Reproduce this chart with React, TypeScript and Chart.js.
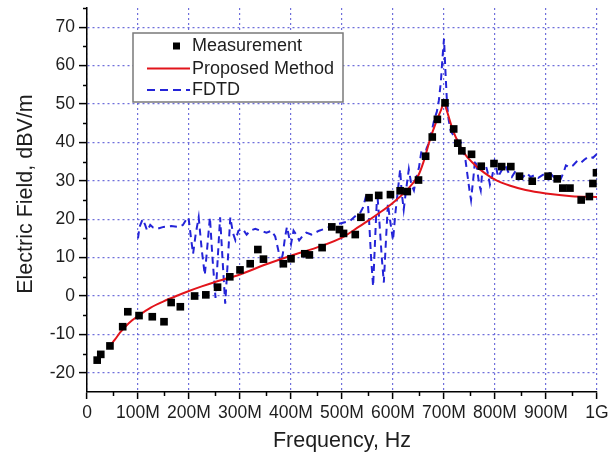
import React, { useEffect, useRef } from 'react';
import { Chart, registerables } from 'chart.js';

Chart.register(...registerables);

// ---- Data (frequency in MHz, field in dBV/m) ----
const measX = [20, 27, 45, 70, 80, 102, 128, 151, 165, 183, 211, 233, 256, 280, 300, 320, 335, 346, 385, 400, 427, 436, 461, 480, 495, 503, 526, 537, 553, 572, 595, 614, 628, 650, 664, 677, 687, 702, 719, 727, 735, 754, 773, 798, 813, 831, 848, 873, 904, 922, 933, 947, 969, 985, 992, 999];
const measY = [-16.7, -15.2, -13, -8, -4.1, -5.1, -5.4, -6.7, -1.7, -2.8, 0, 0.3, 2.3, 5.0, 6.8, 8.4, 12.1, 9.6, 8.4, 9.7, 11.0, 10.7, 12.6, 18.0, 17.3, 16.3, 16.0, 20.5, 25.6, 26.2, 26.4, 27.4, 27.2, 30.2, 36.4, 41.4, 46.0, 50.3, 43.5, 39.8, 37.8, 36.9, 33.8, 34.5, 33.7, 33.7, 31.2, 29.9, 31.2, 30.5, 28.1, 28.1, 25.0, 25.9, 29.3, 32.1];

const propX = [45, 55, 65, 75, 88, 100, 125, 150, 175, 200, 225, 250, 300, 350, 400, 450, 500, 535, 550, 575, 600, 625, 650, 660, 672, 685, 695, 700, 705, 718, 738, 760, 780, 800, 830, 860, 900, 950, 1000];
const propY = [-13, -11.3, -9.5, -8, -6.4, -5.2, -3, -1.4, 0, 1.3, 2.5, 3.6, 5.6, 8.2, 10.5, 12.6, 15.2, 18.2, 19.5, 21.8, 24.3, 27.3, 31.5, 35, 40.5, 45.5, 48.7, 50.5, 48.5, 43, 37.5, 34.2, 32, 30.3, 28.7, 27.6, 26.7, 26, 25.8];

const fdtdX = [100, 103, 109, 114, 118, 124, 130, 138, 150, 165, 180, 188, 195, 199, 204, 208, 213, 219, 225, 231, 236, 241, 246, 252, 256, 261, 266, 271, 276, 281, 286, 291, 297, 305, 313, 320, 330, 340, 352, 362, 369, 375, 380, 384, 388, 392, 396, 400, 405, 410, 416, 422, 430, 440, 455, 470, 485, 500, 515, 528, 535, 541, 549, 553, 557, 561, 565, 569, 573, 578, 582, 586, 590, 594, 600, 605, 610, 614, 617, 621, 626, 631, 636, 641, 646, 651, 656, 661, 666, 671, 676, 681, 686, 690, 694, 697, 700, 703, 706, 709, 713, 720, 727, 733, 738, 742, 746, 750, 753, 757, 761, 765, 769, 772, 776, 781, 786, 790, 795, 799, 803, 806, 812, 820, 827, 833, 840, 846, 855, 862, 870, 878, 885, 893, 900, 908, 915, 922, 929, 934, 939, 946, 953, 960, 967, 975, 984, 992, 1000];
const fdtdY = [15, 18, 20, 18.5, 17, 18.5, 17.8, 17.5, 18, 18.2, 18, 18.5, 20, 20.5, 15, 11, 16, 20.5, 12, 5.5, 13, 20.5, 10, -0.5, 9, 20.5, 9, -2, 9, 20.5, 16.5, 14.5, 17, 17.5, 16, 17, 17.5, 17, 16.5, 17, 15.5, 12, 8.5, 11, 15, 18, 15.5, 13.5, 17, 16, 14.5, 15.5, 16.5, 16, 17, 17.7, 18.5, 19, 19.5, 21, 21.5, 23, 27, 20, 10, 2.5, 15, 27, 20, 10, 3.5, 14, 24, 20, 14.5, 22, 28, 33, 27, 22.5, 28, 33, 29, 27.5, 31, 33.5, 38, 36, 38.5, 40, 43, 46, 48, 51, 56, 62, 67, 58, 50, 46, 43, 41.5, 40.5, 40, 38, 35.5, 31.5, 27.5, 25, 30, 35.5, 33, 29, 27.5, 34, 34.5, 32, 29, 31.5, 35, 33, 31, 32.5, 34, 32, 31, 32.5, 32, 31, 32, 31, 31.5, 30.8, 31.5, 32, 32, 31, 31, 30.5, 32, 34, 33.5, 34, 35, 34.5, 35.5, 36.3, 36, 37];

const xTickValues = [0, 100, 200, 300, 400, 500, 600, 700, 800, 900, 1000];
const xTickLabels = ['0', '100M', '200M', '300M', '400M', '500M', '600M', '700M', '800M', '900M', '1G'];
const xMinor = [50, 150, 250, 350, 450, 550, 650, 750, 850, 950];
const yTickValues = [-20, -10, 0, 10, 20, 30, 40, 50, 60, 70];
const yMinor = [-15, -5, 5, 15, 25, 35, 45, 55, 65, 75];

const legendLabels = ['Measurement', 'Proposed Method', 'FDTD'];
const xTitle = 'Frequency, Hz';
const yTitle = 'Electric Field, dBV/m';

const FONT = "'Liberation Sans', Arial, Helvetica, sans-serif";
const TEXT = '#1e1e1e';
const GRID = 'rgba(95, 95, 215, 0.9)';
const RED = '#e2141b';
const BLUE = '#2424d8';

const minorTicks = {
  id: 'minorTicks',
  afterDraw(chart: any) {
    const { ctx, chartArea } = chart;
    const xs = chart.scales.x;
    const ys = chart.scales.y;
    ctx.save();
    ctx.strokeStyle = '#000';
    ctx.lineWidth = 1.5;
    xMinor.forEach((v) => {
      const px = Math.round(xs.getPixelForValue(v)) + 0.5;
      ctx.beginPath();
      ctx.moveTo(px, chartArea.bottom);
      ctx.lineTo(px, chartArea.bottom + 4);
      ctx.stroke();
    });
    yMinor.forEach((v) => {
      const py = Math.round(ys.getPixelForValue(v)) + 0.5;
      ctx.beginPath();
      ctx.moveTo(chartArea.left, py);
      ctx.lineTo(chartArea.left - 4, py);
      ctx.stroke();
    });
    // y-axis title, placed slightly above the chart-area centre as in the source
    ctx.fillStyle = TEXT;
    ctx.font = `21.5px ${FONT}`;
    ctx.textAlign = 'center';
    ctx.textBaseline = 'middle';
    ctx.translate(26.5, (chartArea.top + chartArea.bottom) / 2 - 6);
    ctx.rotate(-Math.PI / 2);
    ctx.fillText(yTitle, 0, 0);
    ctx.restore();
  },
};

const legendBox = {
  id: 'legendBox',
  afterDraw(chart: any) {
    const { ctx, chartArea } = chart;
    const bx = chartArea.left + 46;
    const by = chartArea.top + 25;
    const bw = 210;
    const bh = 69;
    ctx.save();
    ctx.fillStyle = '#fff';
    ctx.fillRect(bx, by, bw, bh);
    ctx.strokeStyle = '#7a7a7a';
    ctx.lineWidth = 1.5;
    ctx.strokeRect(bx, by, bw, bh);
    const rows = [by + 13, by + 35.5, by + 57];
    const lx0 = bx + 14;
    const lx1 = bx + 57;
    ctx.fillStyle = '#000';
    ctx.fillRect(bx + 40, rows[0] - 3.5, 7, 7);
    ctx.strokeStyle = RED;
    ctx.lineWidth = 2;
    ctx.beginPath();
    ctx.moveTo(lx0, rows[1]);
    ctx.lineTo(lx1, rows[1]);
    ctx.stroke();
    ctx.strokeStyle = BLUE;
    ctx.setLineDash([8, 5]);
    ctx.beginPath();
    ctx.moveTo(lx0, rows[2]);
    ctx.lineTo(lx1, rows[2]);
    ctx.stroke();
    ctx.setLineDash([]);
    ctx.fillStyle = TEXT;
    ctx.font = `18px ${FONT}`;
    ctx.textBaseline = 'middle';
    ctx.textAlign = 'left';
    legendLabels.forEach((t, i) => ctx.fillText(t, bx + 59, rows[i] + 0.5));
    ctx.restore();
  },
};

export default function App() {
  const ref = useRef<HTMLCanvasElement>(null);
  useEffect(() => {
    const canvas = ref.current;
    if (!canvas) return;
    const chart = new Chart(canvas, {
      type: 'line',
      data: {
        datasets: [
          {
            label: legendLabels[0],
            data: measX.map((x, i) => ({ x, y: measY[i] })),
            showLine: false,
            pointStyle: 'rect',
            pointRadius: 5.4,
            pointBorderWidth: 0,
            pointBackgroundColor: '#000',
            borderColor: '#000',
            order: 0,
          },
          {
            label: legendLabels[1],
            data: propX.map((x, i) => ({ x, y: propY[i] })),
            borderColor: RED,
            borderWidth: 2,
            pointRadius: 0,
            cubicInterpolationMode: 'monotone',
            fill: false,
            order: 1,
          },
          {
            label: legendLabels[2],
            data: fdtdX.map((x, i) => ({ x, y: fdtdY[i] })),
            borderColor: BLUE,
            borderWidth: 2,
            borderDash: [7, 5],
            pointRadius: 0,
            tension: 0,
            fill: false,
            order: 2,
          },
        ],
      },
      options: {
        responsive: false,
        animation: false,
        devicePixelRatio: 1,
        layout: { padding: { left: 0, top: 8, right: 14, bottom: 0 } },
        plugins: { legend: { display: false }, tooltip: { enabled: false } },
        scales: {
          x: {
            type: 'linear',
            min: 0,
            max: 1000,
            afterBuildTicks: (s: any) => {
              s.ticks = xTickValues.map((v) => ({ value: v }));
            },
            afterFit: (s: any) => {
              s.height = 62;
              s.paddingLeft = 0;
              s.paddingRight = 0;
            },
            ticks: {
              autoSkip: false,
              maxRotation: 0,
              padding: 4,
              color: TEXT,
              font: { family: FONT, size: 17.5 },
              callback: (v: any) => {
                const i = xTickValues.indexOf(Number(v));
                return i >= 0 ? xTickLabels[i] : '';
              },
            },
            grid: {
              color: GRID,
              lineWidth: 1.2,
              drawTicks: true,
              tickLength: 7,
              tickColor: '#000',
              tickWidth: 1.5,
              tickBorderDash: [],
            },
            border: { display: true, color: '#000', width: 1.5, dash: [2, 3] },
            title: {
              display: true,
              text: xTitle,
              color: TEXT,
              font: { family: FONT, size: 21.5 },
              padding: { top: 0, bottom: 0 },
            },
          },
          y: {
            type: 'linear',
            min: -25,
            max: 75,
            afterBuildTicks: (s: any) => {
              s.ticks = yTickValues.map((v) => ({ value: v }));
            },
            afterFit: (s: any) => {
              s.width = 87;
              s.paddingTop = 0;
              s.paddingBottom = 0;
            },
            ticks: {
              padding: 4,
              color: TEXT,
              font: { family: FONT, size: 17.5 },
              callback: (v: any) => String(v),
            },
            grid: {
              color: GRID,
              lineWidth: 1.2,
              drawTicks: true,
              tickLength: 8,
              tickColor: '#000',
              tickWidth: 1.5,
              tickBorderDash: [],
            },
            border: { display: true, color: '#000', width: 1.5, dash: [2, 3] },
            title: { display: false },
          },
        },
      },
      plugins: [minorTicks, legendBox],
    } as any);
    return () => chart.destroy();
  }, []);
  return (
    <div style={{ position: 'fixed', left: 0, top: 0, width: 611, height: 454, background: '#fff' }}>
      <canvas ref={ref} width={611} height={454} style={{ display: 'block', width: 611, height: 454 }} />
    </div>
  );
}
